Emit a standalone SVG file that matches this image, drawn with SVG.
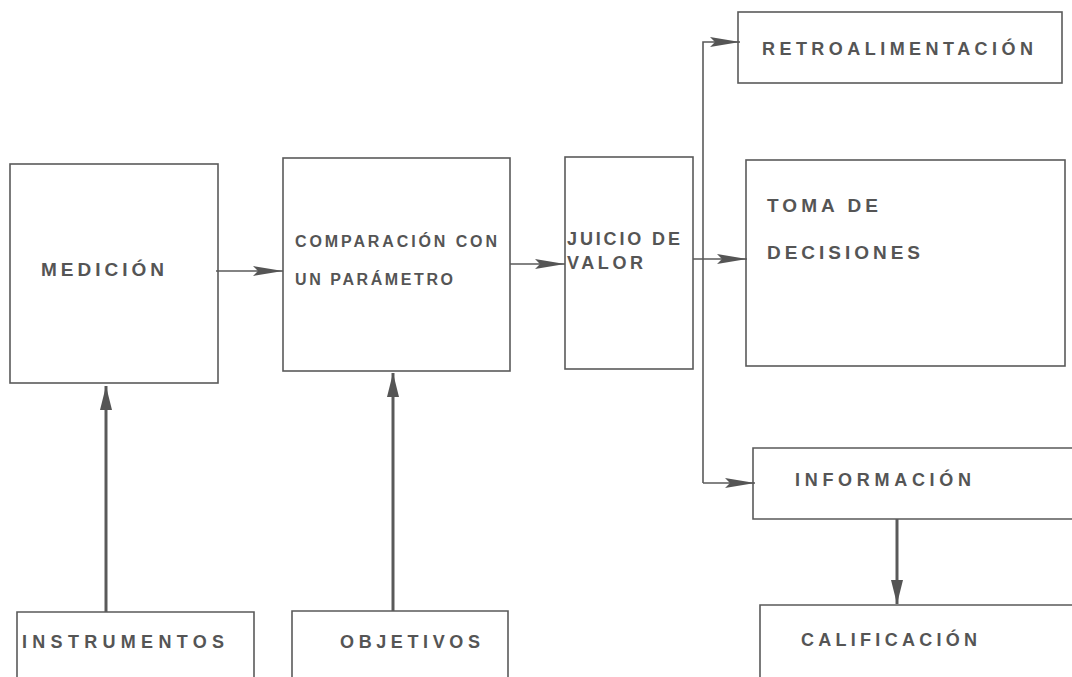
<svg xmlns="http://www.w3.org/2000/svg" width="1072" height="677" viewBox="0 0 1072 677">
<style>
.box{fill:none;stroke:#5a5a5a;stroke-width:1.6}
.t{font-family:"Liberation Sans",Arial,sans-serif;font-weight:bold;font-size:18px;fill:#555}
.s{font-size:16px}
.l{font-size:19px}
.c{fill:none;stroke:#5a5a5a;stroke-width:1.6}
.ct{fill:none;stroke:#5a5a5a;stroke-width:3}
</style>
<defs>
<marker id="ah" viewBox="0 0 30 12" refX="30" refY="6" markerWidth="30" markerHeight="12" markerUnits="userSpaceOnUse" orient="auto">
<path d="M0,1 L30,6 L0,11 L5,6 Z" fill="#555"/>
</marker>
<marker id="av" viewBox="0 0 24 12" refX="24" refY="6" markerWidth="24" markerHeight="12" markerUnits="userSpaceOnUse" orient="auto">
<path d="M0,0 L24,6 L0,12 Z" fill="#555"/>
</marker>
</defs>
<rect width="1072" height="677" fill="#fff"/>
<g id="medicion"><rect class="box" x="10" y="164" width="208" height="219"/><text class="t l" x="41" y="276" textLength="123" lengthAdjust="spacing">MEDICIÓN</text></g>
<g id="comparacion"><rect class="box" x="283" y="158" width="227" height="213"/><text class="t s" x="295" y="247" textLength="202" lengthAdjust="spacing">COMPARACIÓN CON</text><text class="t s" x="295" y="285" textLength="158" lengthAdjust="spacing">UN PARÁMETRO</text></g>
<g id="juicio"><rect class="box" x="565" y="157" width="128" height="212"/><text class="t" x="567" y="245" textLength="113" lengthAdjust="spacing">JUICIO DE</text><text class="t" x="567" y="269" textLength="76" lengthAdjust="spacing">VALOR</text></g>
<g id="retro"><rect class="box" x="738" y="12" width="324" height="71"/><text class="t" x="762" y="55" textLength="271" lengthAdjust="spacing">RETROALIMENTACIÓN</text></g>
<g id="toma"><rect class="box" x="746" y="160" width="319" height="206"/><text class="t l" x="767" y="212" textLength="111" lengthAdjust="spacing">TOMA DE</text><text class="t l" x="767" y="259" textLength="153" lengthAdjust="spacing">DECISIONES</text></g>
<g id="informacion"><path class="box" d="M1072,448 H753 V519 H1072"/><text class="t" x="795" y="486" textLength="176" lengthAdjust="spacing">INFORMACIÓN</text></g>
<g id="calificacion"><path class="box" d="M1072,605 H760 V677"/><text class="t" x="801" y="646" textLength="176" lengthAdjust="spacing">CALIFICACIÓN</text></g>
<g id="instrumentos"><path class="box" d="M17,677 V612 H254 V677"/><text class="t" x="22" y="648" textLength="202" lengthAdjust="spacing">INSTRUMENTOS</text></g>
<g id="objetivos"><path class="box" d="M292,677 V611 H508 V677"/><text class="t" x="340" y="648" textLength="140" lengthAdjust="spacing">OBJETIVOS</text></g>
<g id="connectors">
<path class="c" d="M216,271 H283" marker-end="url(#ah)"/>
<path class="c" d="M510,264 H565" marker-end="url(#ah)"/>
<path class="c" d="M693,259 H747" marker-end="url(#ah)"/>
<path class="c" d="M703,483 V42 H740" marker-end="url(#ah)"/>
<path class="c" d="M703,483 H755" marker-end="url(#ah)"/>
<path class="ct" d="M897,519 V604" marker-end="url(#av)"/>
<path class="ct" d="M106,612 V386" marker-end="url(#av)"/>
<path class="ct" d="M393,611 V373" marker-end="url(#av)"/>
</g>
</svg>
